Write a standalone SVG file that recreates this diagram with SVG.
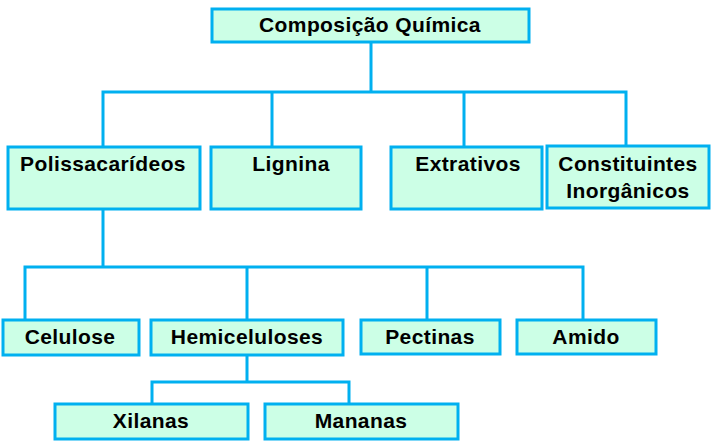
<svg xmlns="http://www.w3.org/2000/svg" width="714" height="447" viewBox="0 0 714 447">
<style>
.box{fill:#CCFFE6;stroke:#00B0F0;stroke-width:3}
.ln{fill:none;stroke:#00B0F0;stroke-width:3}
text{font-family:"Liberation Sans",Arial,sans-serif;font-weight:bold;font-size:21px;letter-spacing:0.4px;fill:#000;text-anchor:middle}
</style>
<rect width="714" height="447" fill="#fff"/>
<g id="connectors">
<path class="ln" d="M371 42V92M103 147V92H626V147M272 92V147M464 92V147"/>
<path class="ln" d="M103 209V267M25 320V267H583V320M247 267V320M427 267V320"/>
<path class="ln" d="M247 355V382M152 403V382H349V403"/>
</g>
<g id="n-composicao"><rect class="box" x="212" y="9" width="317" height="33"/><text x="370" y="32">Composição Química</text></g>
<g id="n-polissacarideos"><rect class="box" x="8" y="147" width="192" height="62"/><text x="103" y="171">Polissacarídeos</text></g>
<g id="n-lignina"><rect class="box" x="211" y="147" width="150" height="62"/><text x="291" y="171">Lignina</text></g>
<g id="n-extrativos"><rect class="box" x="391" y="147" width="151" height="62"/><text x="468" y="171">Extrativos</text></g>
<g id="n-constituintes"><rect class="box" x="547" y="146" width="162" height="62"/><text x="628" y="171">Constituintes</text><text x="628" y="198">Inorgânicos</text></g>
<g id="n-celulose"><rect class="box" x="3" y="320" width="136" height="35"/><text x="70" y="344">Celulose</text></g>
<g id="n-hemiceluloses"><rect class="box" x="151" y="320" width="192" height="35"/><text x="247" y="344">Hemiceluloses</text></g>
<g id="n-pectinas"><rect class="box" x="361" y="320" width="139" height="34"/><text x="430" y="344">Pectinas</text></g>
<g id="n-amido"><rect class="box" x="517" y="320" width="139" height="34"/><text x="586" y="344">Amido</text></g>
<g id="n-xilanas"><rect class="box" x="55" y="404" width="193" height="35"/><text x="151" y="428">Xilanas</text></g>
<g id="n-mananas"><rect class="box" x="265" y="404" width="193" height="35"/><text x="361" y="428">Mananas</text></g>
</svg>
